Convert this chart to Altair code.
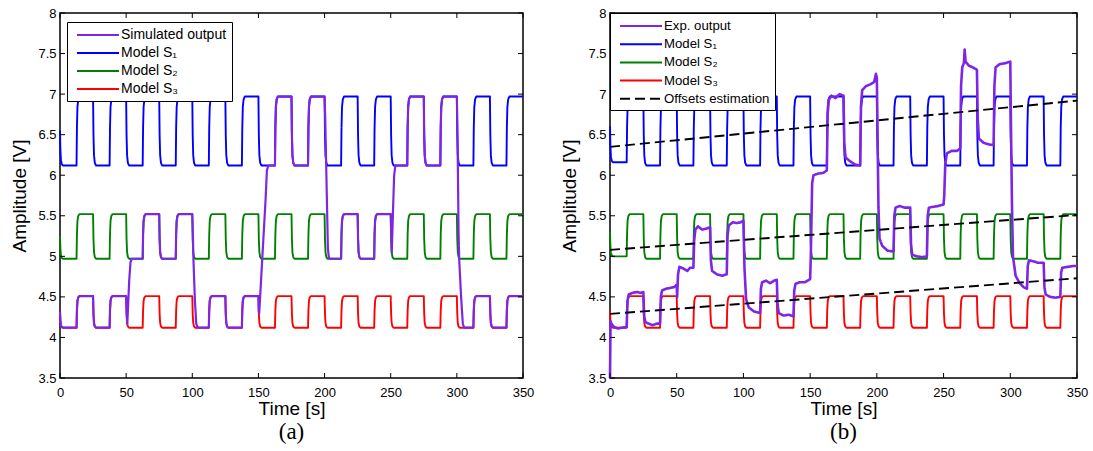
import altair as alt
import pandas as pd

# ---------------- values ----------------
X_TICKS = [0, 50, 100, 150, 200, 250, 300, 350]
Y_TICKS = [3.5, 4, 4.5, 5, 5.5, 6, 6.5, 7, 7.5, 8]

HALF_PERIOD = 12.5  # s, the excitation toggles every 12.5 s

# settled level of each model in each 12.5 s half period (0-12.5, 12.5-25, ...)
S1_LEVELS = [6.12, 6.97, 6.12, 6.97, 6.12, 6.97, 6.12, 6.97, 6.12, 6.97, 6.12, 6.97, 6.12, 6.97,
             6.12, 6.97, 6.12, 6.97, 6.12, 6.97, 6.12, 6.97, 6.12, 6.97, 6.12, 6.97, 6.12, 6.97]
S2_LEVELS = [4.97, 5.52, 4.97, 5.52, 4.97, 5.52, 4.97, 5.52, 4.97, 5.52, 4.97, 5.52, 4.97, 5.52,
             4.97, 5.52, 4.97, 5.52, 4.97, 5.52, 4.97, 5.52, 4.97, 5.52, 4.97, 5.52, 4.97, 5.52]
S3_LEVELS = [4.12, 4.51, 4.12, 4.51, 4.12, 4.51, 4.12, 4.51, 4.12, 4.51, 4.12, 4.51, 4.12, 4.51,
             4.12, 4.51, 4.12, 4.51, 4.12, 4.51, 4.12, 4.51, 4.12, 4.51, 4.12, 4.51, 4.12, 4.51]

# value of every model at t = 0, and first plateau in panel (b)
START_A = [6.55, 5.25, 4.32]
START_B = [6.60, 5.30, 4.33]
FIRST_B = [6.16, 5.00, 4.12]

# panel (a): model followed by the simulated output in each 50 s block
BLOCK_EDGES_A = [0, 50, 100, 150, 200, 250, 300, 350]
BLOCK_MODEL_A = [2, 1, 2, 0, 1, 0, 2]
# points of the simulated output during each model switch
SWITCH_A = [
    [(50.0, 4.51), (50.4, 4.30), (50.9, 4.17), (52.3, 4.70), (53.3, 4.93), (54.3, 4.97)],
    [(100.0, 5.52), (100.4, 5.30), (100.9, 4.95), (102.0, 4.45), (103.0, 4.17), (104.0, 4.12)],
    [(150.0, 4.51), (150.3, 4.32), (150.6, 4.30), (155.4, 5.70), (156.4, 6.06), (157.5, 6.12)],
    [(200.0, 6.97), (200.5, 6.70), (201.5, 5.90), (202.5, 5.10), (203.3, 4.98), (204.5, 4.97)],
    [(250.0, 5.52), (250.3, 5.35), (250.8, 5.05), (251.8, 5.60), (252.6, 6.00), (253.5, 6.12)],
    [(300.0, 6.97), (300.5, 6.50), (301.3, 5.30), (301.8, 4.95), (303.2, 4.50), (304.5, 4.17), (305.5, 4.12)],
]

# panel (b): experimental output
EXP_T = [0, 0.4, 1, 3, 6, 9, 12.5,
         13.1, 14, 17, 20, 23, 25,
         25.6, 26.5, 29, 32, 35, 37.5,
         38.1, 39, 42, 45, 48, 50,
         50.3, 51, 52, 55, 58, 60, 62.5,
         63.1, 64, 66, 69, 72, 75,
         75.6, 76.5, 80, 84, 87.5,
         88.1, 89, 92, 95, 98, 100,
         100.8, 102, 104, 108, 112.5,
         113.1, 114, 117, 120, 123, 125,
         125.6, 126.5, 130, 134, 137.5,
         138.1, 139, 142, 146, 150,
         150.5, 151.5, 152.5, 156, 160, 162.5,
         163.1, 164, 166, 169, 172, 175,
         175.6, 176.5, 180, 184, 187.5,
         188.1, 189, 192, 195, 198, 199.3, 200,
         200.6, 201.2, 202, 204, 208, 212.5,
         213.1, 214, 217, 221, 225,
         225.6, 226.5, 230, 234, 237.5,
         238.1, 239, 242, 246, 250,
         250.5, 251.3, 252.5, 256, 260, 262.5,
         263.1, 264, 265.2, 265.8, 266.5, 269, 272, 275,
         275.6, 276.5, 280, 284, 287.5,
         288.1, 289, 292, 296, 300,
         300.6, 301.3, 302, 304, 307, 310, 312.5,
         313.1, 314, 317, 321, 325,
         325.6, 326.5, 330, 334, 337.5,
         338.1, 339, 343, 347, 350]
EXP_V = [3.50, 4.20, 4.17, 4.13, 4.11, 4.12, 4.13,
         4.45, 4.53, 4.55, 4.56, 4.55, 4.56,
         4.27, 4.19, 4.17, 4.15, 4.17, 4.17,
         4.50, 4.58, 4.60, 4.61, 4.62, 4.65,
         4.50, 4.78, 4.87, 4.85, 4.82, 4.86, 4.86,
         5.20, 5.33, 5.37, 5.33, 5.34, 5.36,
         4.95, 4.82, 4.78, 4.76, 4.78,
         5.25, 5.38, 5.42, 5.41, 5.42, 5.44,
         4.85, 4.47, 4.37, 4.32, 4.30,
         4.60, 4.68, 4.70, 4.67, 4.70, 4.71,
         4.40, 4.30, 4.27, 4.28, 4.26,
         4.58, 4.66, 4.68, 4.68, 4.72,
         5.00, 5.90, 6.00, 6.02, 6.03, 6.06,
         6.75, 6.93, 6.98, 6.95, 7.00, 6.98,
         6.40, 6.22, 6.17, 6.13, 6.12,
         6.85, 7.05, 7.10, 7.12, 7.15, 7.25, 7.20,
         6.40, 5.60, 5.22, 5.13, 5.07, 5.06,
         5.50, 5.60, 5.62, 5.60, 5.60,
         5.15, 5.02, 5.00, 4.99, 5.00,
         5.50, 5.60, 5.61, 5.62, 5.64,
         5.75, 6.15, 6.27, 6.30, 6.30, 6.33,
         7.10, 7.33, 7.38, 7.55, 7.40, 7.35, 7.33, 7.30,
         6.70, 6.45, 6.40, 6.38, 6.37,
         7.10, 7.33, 7.37, 7.38, 7.40,
         6.50, 5.60, 5.00, 4.76, 4.67, 4.62, 4.60,
         4.88, 4.95, 4.94, 4.92, 4.92,
         4.62, 4.53, 4.50, 4.49, 4.50,
         4.80, 4.86, 4.87, 4.88, 4.88]

# offsets estimation (dashed lines), value at t = 0 and t = 350
OFFSET_T = [0, 350]
OFFSET_V = [[6.35, 6.92], [5.08, 5.51], [4.29, 4.73]]

SERIES_A = ["Simulated output", "Model S\u2081", "Model S\u2082", "Model S\u2083"]
SERIES_B = ["Exp. output", "Model S\u2081", "Model S\u2082", "Model S\u2083", "Offsets estimation"]

# ---------------- styling ----------------
PURPLE, BLUE, GREEN, RED, BLACK = "#7d26e6", "#0000ff", "#008000", "#ff0000", "#000000"
FONT = "Liberation Sans, Arial, Helvetica, sans-serif"
SERIF = "Liberation Serif, Times New Roman, serif"
EDGE = [(0.3, 0.55), (0.7, 0.85), (1.3, 0.96), (2.2, 1.0)]  # rounded edge drawing
HEIGHT = 365
TICK_LEN = 5


def model_points(levels, start):
    pts = [(0.0, start)]
    prev = start
    for k, lev in enumerate(levels):
        t0 = k * HALF_PERIOD
        for dt, f in EDGE:
            pts.append((t0 + dt, prev + f * (lev - prev)))
        pts.append((t0 + HALF_PERIOD, lev))
        prev = lev
    return pts


LEVELS = [S1_LEVELS, S2_LEVELS, S3_LEVELS]
models_a = [model_points(LEVELS[m], START_A[m]) for m in range(3)]
models_b = [model_points([FIRST_B[m]] + LEVELS[m][1:], START_B[m]) for m in range(3)]

sim = []
for b, m in enumerate(BLOCK_MODEL_A):
    te = BLOCK_EDGES_A[b + 1]
    if b == 0:
        t_from = -1.0
    else:
        sim.extend(SWITCH_A[b - 1])
        t_from = SWITCH_A[b - 1][-1][0]
    last = b == len(BLOCK_MODEL_A) - 1
    sim.extend(p for p in models_a[m] if t_from < p[0] and (p[0] < te or (last and p[0] <= te)))


def rows(series, pts, seg=0):
    return [{"series": series, "t": t, "v": v, "seg": seg, "i": i} for i, (t, v) in enumerate(pts)]


rec_a = rows(SERIES_A[0], sim)
for m in range(3):
    rec_a += rows(SERIES_A[m + 1], models_a[m])
df_a = pd.DataFrame(rec_a)

rec_b = rows(SERIES_B[0], list(zip(EXP_T, EXP_V)))
for m in range(3):
    rec_b += rows(SERIES_B[m + 1], models_b[m])
for s, vals in enumerate(OFFSET_V):
    rec_b += rows(SERIES_B[4], list(zip(OFFSET_T, vals)), seg=s)
df_b = pd.DataFrame(rec_b)

xt_df = pd.DataFrame({"tick": X_TICKS})
yt_df = pd.DataFrame({"tick": Y_TICKS})

XS = alt.Scale(domain=[0, 350], nice=False, zero=False)
YS = alt.Scale(domain=[3.5, 8], nice=False, zero=False)


def axes():
    common = dict(domain=False, grid=False, ticks=False)
    xb = alt.Axis(orient="bottom", values=X_TICKS, format="d", labelFont=FONT, labelFontSize=13,
                  labelColor="black", labelPadding=8, labelFlush=False, title="Time [s]",
                  titleFont=FONT, titleFontSize=19, titleFontWeight="normal", titleColor="black",
                  titlePadding=0, **common)
    yl = alt.Axis(orient="left", values=Y_TICKS, format=".1~f", labelFont=FONT, labelFontSize=13,
                  labelColor="black", labelPadding=4, title="Amplitude [V]", titleFont=FONT,
                  titleFontSize=19, titleFontWeight="normal", titleColor="black", titlePadding=8,
                  **common)
    return xb, yl


def legend(x, y, size, row_pad):
    return alt.Legend(title=None, orient="none", legendX=x, legendY=y, direction="vertical",
                      symbolType="M-3,0H3", symbolSize=196, symbolStrokeWidth=2, symbolOffset=18,
                      labelOffset=15, labelFont=FONT, labelFontSize=size, labelColor="black",
                      labelLimit=400, rowPadding=row_pad, padding=5, strokeColor="black",
                      fillColor="white", cornerRadius=0)


def tick_layers(width):
    rule = alt.Chart(xt_df).mark_rule(color="black", strokeWidth=1)
    rule_y = alt.Chart(yt_df).mark_rule(color="black", strokeWidth=1)
    x_enc = alt.X("tick:Q", scale=XS, axis=None)
    y_enc = alt.Y("tick:Q", scale=YS, axis=None)
    return [
        rule.encode(x=x_enc, y=alt.value(0), y2=alt.value(TICK_LEN)),
        rule.encode(x=x_enc, y=alt.value(HEIGHT - TICK_LEN), y2=alt.value(HEIGHT)),
        rule_y.encode(y=y_enc, x=alt.value(0), x2=alt.value(TICK_LEN)),
        rule_y.encode(y=y_enc, x=alt.value(width - TICK_LEN), x2=alt.value(width)),
    ]


def panel(df, series, colors, dashes, draw, leg, caption, width):
    color = alt.Color("series:N", scale=alt.Scale(domain=series, range=colors), legend=leg)
    dash = alt.StrokeDash("series:N", scale=alt.Scale(domain=series, range=dashes), legend=leg)
    xb, yl = axes()
    layers = []
    for j, (s, w) in enumerate(draw):
        layers.append(
            alt.Chart(df).transform_filter(alt.datum.series == s)
            .mark_line(strokeWidth=w, strokeJoin="round")
            .encode(x=alt.X("t:Q", scale=XS, axis=xb if j == 0 else None),
                    y=alt.Y("v:Q", scale=YS, axis=yl if j == 0 else None),
                    color=color, strokeDash=dash, detail="seg:N", order="i:Q")
        )
    layers += tick_layers(width)
    return (alt.layer(*layers)
            .resolve_axis(x="independent", y="independent")
            .properties(width=width, height=HEIGHT,
                        title=alt.TitleParams(caption, orient="bottom", anchor="middle", font=SERIF,
                                              fontSize=23, fontWeight="normal", color="black",
                                              offset=3)))


pa = panel(df_a, SERIES_A, [PURPLE, BLUE, GREEN, RED], [[1, 0]] * 4,
           [(SERIES_A[1], 1.9), (SERIES_A[2], 1.9), (SERIES_A[3], 1.9), (SERIES_A[0], 2.2)],
           legend(7, 9, 14, 3), "(a)", 463)
pb = panel(df_b, SERIES_B, [PURPLE, BLUE, GREEN, RED, BLACK], [[1, 0]] * 4 + [[10, 5]],
           [(SERIES_B[1], 1.9), (SERIES_B[2], 1.9), (SERIES_B[3], 1.9), (SERIES_B[0], 2.6),
            (SERIES_B[4], 1.9)],
           legend(0, 0, 13.2, 3.2), "(b)", 467)

chart = (alt.hconcat(pa, pb, spacing=25)
         .resolve_scale(color="independent", strokeDash="independent")
         .properties(padding={"left": 10, "top": 6, "right": 0, "bottom": 0}, background="white")
         .configure_view(stroke="black", strokeWidth=1.5))

chart.save("out.html", embed_options={"renderer": "svg", "actions": False})
